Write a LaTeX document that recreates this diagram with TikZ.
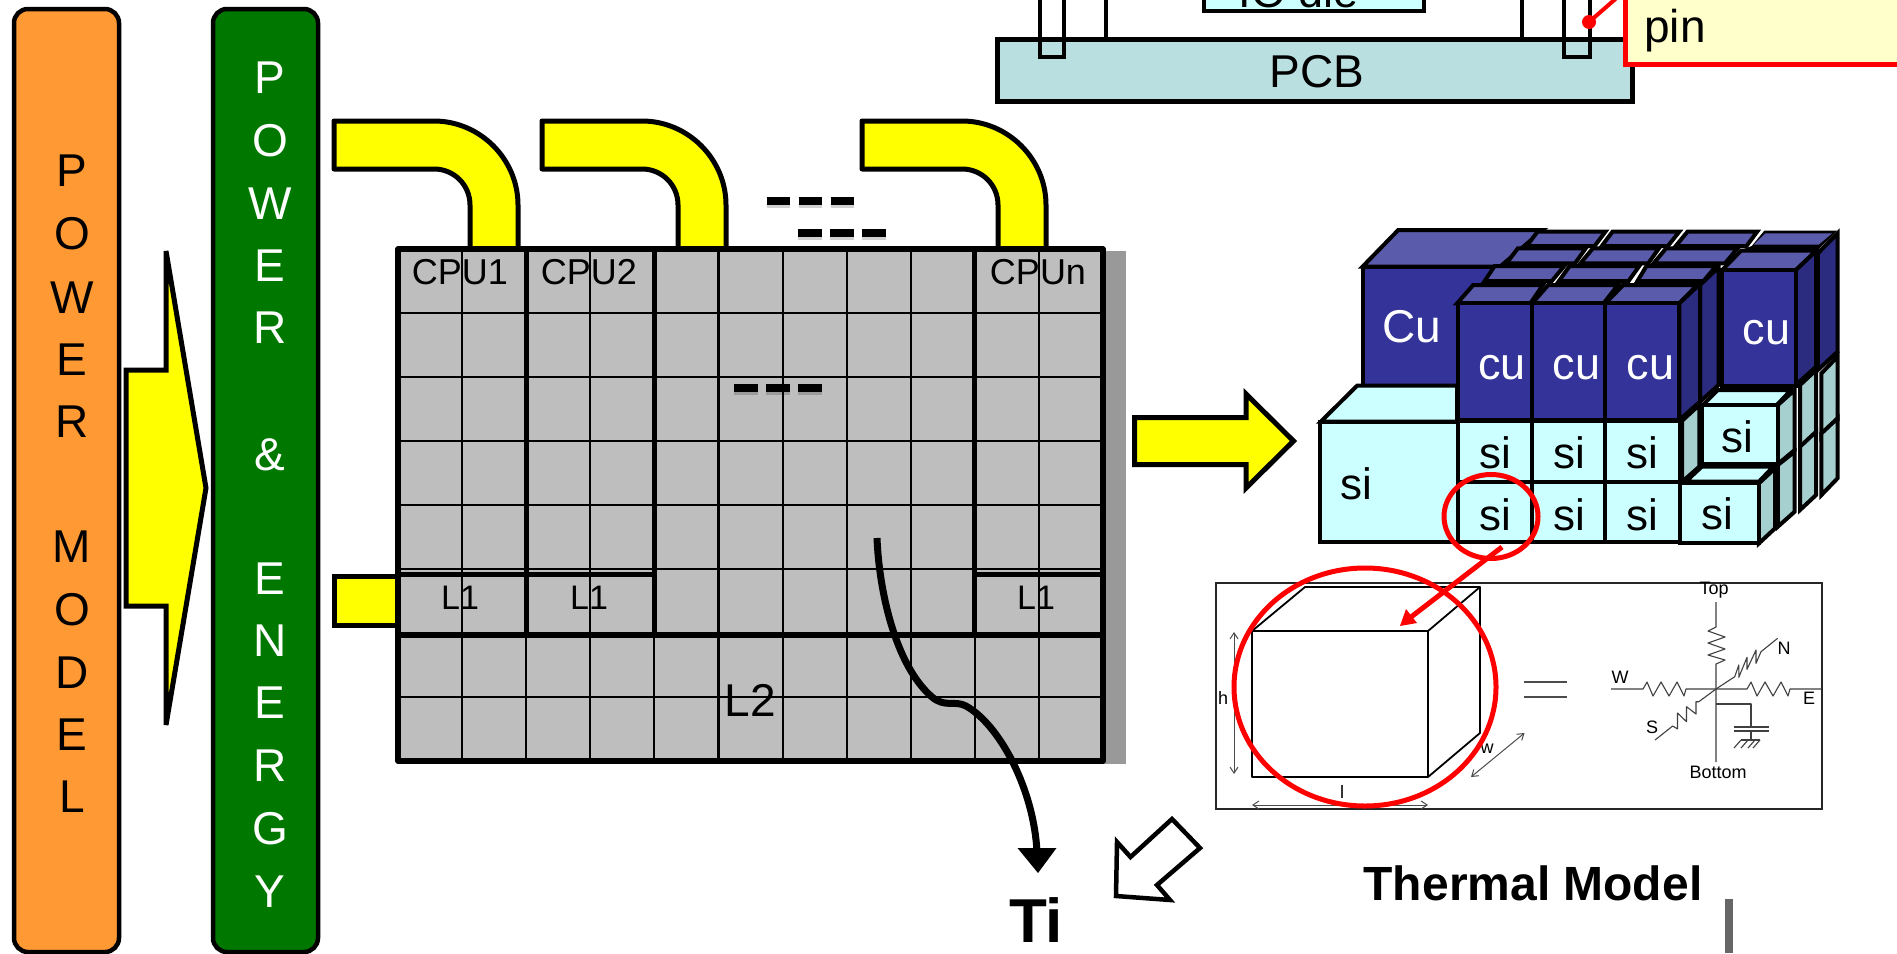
\documentclass[tikz,border=0pt]{standalone}
\usepackage{fontspec}
\setmainfont{Liberation Sans}
\usetikzlibrary{arrows.meta}
\newcommand\fsz[1]{\fontsize{#1}{#1}\selectfont}
\definecolor{orangebar}{HTML}{FF9933}
\definecolor{greenbar}{HTML}{007800}
\definecolor{yel}{HTML}{FFFF00}
\definecolor{chipgrey}{HTML}{BEBEBE}
\definecolor{shadowgrey}{HTML}{999999}
\definecolor{pcbblue}{HTML}{B9DFE1}
\definecolor{lightsi}{HTML}{CCFFFF}
\definecolor{sidesi}{HTML}{A6CFCF}
\definecolor{cufront}{HTML}{333399}
\definecolor{cutop}{HTML}{5B5BAB}
\definecolor{cuside}{HTML}{2B2B80}
\definecolor{callout}{HTML}{FFFFCC}
\tikzset{
  lbl/.style={inner sep=0pt,outer sep=0pt,anchor=center},
  barbox/.style={draw=black,line width=4.5pt,rounded corners=14pt},
  yblock/.style={draw=black,fill=yel,line width=5pt,line join=miter},
  thin grid/.style={draw=black,line width=2.1pt},
  thick grid/.style={draw=black,line width=5pt},
  dashbar/.style={draw=black,line width=8pt},
  dashshade/.style={draw=black,opacity=.18,line width=8pt},
  block/.style={draw=black,line width=4pt,line join=miter},
  sifront/.style={block,fill=lightsi},
  siside/.style={block,fill=sidesi},
  cuf/.style={block,fill=cufront},
  cut/.style={block,fill=cutop},
  cus/.style={block,fill=cuside},
  cutxt/.style={lbl,text=white,font=\fsz{45}},
  sitxt/.style={lbl,text=black,font=\fsz{44}},
  fig/.style={draw=black,line width=1.8pt,line join=round},
  wire/.style={draw=black!75,line width=1.1pt,line join=round},
  dim/.style={draw=black!70,line width=1pt,{Straight Barb[length=6pt,width=8pt]}-{Straight Barb[length=6pt,width=8pt]}},
  smalltxt/.style={lbl,font=\fsz{18}},
  redring/.style={draw=red,line width=5pt},
}
\begin{document}
\begin{tikzpicture}[x=1pt,y=-1pt]
\path[use as bounding box,clip] (0,0) rectangle (1897,953);
\fill[white] (0,0) rectangle (1897,953);

% left bars
\path[barbox,fill=orangebar] (14,9) rectangle (119,952);
\path[barbox,fill=greenbar] (213,9) rectangle (318,952);
\foreach \t/\y [count=\i] in {P/171,O/234,W/298,E/360,R/422,M/547,O/610,D/673,E/735,L/797}
  \node[lbl,font=\fsz{46},text=black] (pm\i) at (72,\y) {\t};
\foreach \t/\y [count=\i] in {P/78,O/141,W/204,E/266,R/328,\&/455,E/579,N/641,E/703,R/766,G/829,Y/892}
  \node[lbl,font=\fsz{46},text=white] (pe\i) at (270,\y) {\t};

% big yellow arrow
\path[yblock] (126,370) -- (166,370) -- (166,251) -- (206,488) -- (166,725) -- (166,606) -- (126,606) -- cycle;

% PCB and package
\path[draw=black,line width=5pt,fill=pcbblue] (997,39) rectangle (1632,101);
\node[lbl,font=\fsz{46}] (pcb) at (1317,72) {PCB};
\path[draw=black,line width=4.5pt,fill=lightsi] (1204,-10) rectangle (1424,11);
\node[inner sep=0pt,anchor=base,font=\fsz{45}] (iodie) at (1299,8) {IO die};
\draw[black,line width=4pt] (1040,-5) -- (1040,57) -- (1064,57) -- (1064,-5);
\draw[black,line width=4pt] (1564,-5) -- (1564,57) -- (1590,57) -- (1590,-5);
\draw[black,line width=3.5pt] (1106,-5) -- (1106,37);
\draw[black,line width=3.5pt] (1522,-5) -- (1522,37);

% callout
\coordinate (pintip) at (1589,22);
\coordinate (pinbase) at (1628,-12);
\draw[red,line width=4pt] (pintip) -- (pinbase);
\fill[red] (pintip) circle (7);
\path[draw=red,line width=5pt,fill=callout] (1625,-10) rectangle (1910,64.5);
\node[inner sep=0pt,anchor=base west,font=\fsz{46}] (pin) at (1644,42) {pin};

% bent power pipes
\foreach \d in {0,208,528}
  \path[yblock,line join=round] (334+\d,121) -- (434+\d,121) .. controls (480+\d,121) and (518+\d,159) .. (518+\d,205)
    -- (518+\d,252) -- (470+\d,252) -- (470+\d,205) .. controls (470+\d,185) and (454+\d,169) .. (434+\d,169) -- (334+\d,169) -- cycle;
\path[yblock] (334,576) rectangle (400,625);

% chip
\fill[shadowgrey] (416,251) rectangle (1126,764);
\fill[chipgrey] (398,249) rectangle (1103,761);
\foreach \n in {1,...,10} \draw[thin grid] (398+64.1*\n,249) -- (398+64.1*\n,761);
\foreach \y in {313,377,441,505,569,697} \draw[thin grid] (398,\y) -- (1103,\y);
\draw[thick grid] (526,249) -- (526,635);
\draw[thick grid] (654,249) -- (654,635);
\draw[thick grid] (974,249) -- (974,635);
\draw[thick grid] (398,574.5) -- (654,574.5);
\draw[thick grid] (974,574.5) -- (1103,574.5);
\draw[thick grid,line width=6.5pt] (398,635) -- (1103,635);
\draw[draw=black,line width=5.5pt,line join=round] (398,249) rectangle (1103,761);

\foreach \t/\x [count=\i] in {CPU1/460,CPU2/589,CPUn/1038}
  \node[lbl,font=\fsz{36}] (cpu\i) at (\x,272) {\t};
\foreach \x [count=\i] in {460,589,1036}
  \node[lbl,font=\fsz{34}] (lone\i) at (\x,598) {L1};
\node[lbl,font=\fsz{46}] (ltwo) at (750,700) {L2};

% dashes
\foreach \a/\y in {766.5/201,798/233,734/388}{
  \foreach \k in {0,1,2}{
    \draw[dashshade] (\a+32*\k,\y+3) -- (\a+23.5+32*\k,\y+3);
    \draw[dashbar] (\a+32*\k,\y) -- (\a+23.5+32*\k,\y);
  }
}

% Ti and curve
\node[lbl,font=\bfseries\fsz{62}] (ti) at (1036,920) {Ti};
\coordinate (curvestart) at (877,538);
\draw[black,line width=7pt] (curvestart) .. controls (879,590) and (895,665) .. (932,697)
   .. controls (945,708) and (955,700) .. (966,706)
   .. controls (1000,725) and (1034,790) .. (1037,852);
\fill[black] (1017.5,848) -- (1056.5,848) -- (1038,873) -- cycle;

% hollow arrow
\path[draw=black,fill=white,line width=4.5pt,line join=miter] (1116,896) -- (1117,842) -- (1130.5,857) -- (1172,819) -- (1200,848) -- (1157,885) -- (1170,900) -- cycle;

% right yellow arrow
\path[yblock] (1134.5,417.5) -- (1246,417.5) -- (1246,394) -- (1293.5,441) -- (1246,488) -- (1246,464.5) -- (1134.5,464.5) -- cycle;

% cube stack, coordinates of the 2.8 x 3 magnified view
\begin{scope}[shift={(1300,210)},x=0.35714pt,y=-0.33333pt]
  % far right column
  \path[cus] (1450,130) -- (1505,70) -- (1505,425) -- (1450,480) -- cycle;
  \path[fill=black] (1230,122) -- (1265,108) -- (1300,62) -- (1505,62) -- (1445,125) -- cycle;
  \path[fill=cutop] (1303,70) -- (1490,70) -- (1452,104) -- (1270,104) -- cycle;
  \path[siside] (1460,490) -- (1505,440) -- (1505,630) -- (1460,680) -- cycle;
  \path[siside] (1460,670) -- (1505,625) -- (1505,805) -- (1460,855) -- cycle;
  % big Cu
  \path[cuf] (175,172) rectangle (560,528);
  \path[cut] (175,170) -- (275,60) -- (680,60) -- (560,170) -- cycle;
  \node[cutxt,font=\fsz{46}] (bigcu) at (312,350) {Cu};
  % rows of tops
  \foreach \a/\b/\c/\d in {665/855/825/635,875/1062/1030/845,1085/1280/1250/1052}
    \path[cut] (\a,65) -- (\b,65) -- (\c,108) -- (\d,108) -- cycle;
  \foreach \a/\b/\c/\d in {610/800/770/578,820/1005/975/785,1025/1225/1190/990}
    \path[cut] (\a,115) -- (\b,115) -- (\c,160) -- (\d,160) -- cycle;
  \foreach \a/\b/\c/\d in {545/740/705/517,755/950/920/725,970/1165/1130/945}
    \path[cut] (\a,168) -- (\b,168) -- (\c,213) -- (\d,213) -- cycle;
  % second column on the right
  \path[cus] (1388,180) -- (1445,122) -- (1445,470) -- (1388,525) -- cycle;
  \path[cut] (1182,180) -- (1235,122) -- (1445,122) -- (1388,180) -- cycle;
  \path[cuf] (1182,180) rectangle (1388,528);
  \node[cutxt] (cu4) at (1306,368) {cu};
  \path[siside] (1400,525) -- (1445,480) -- (1445,670) -- (1400,715) -- cycle;
  \path[siside] (1400,710) -- (1445,665) -- (1445,855) -- (1400,900) -- cycle;
  % side of the middle rows
  \path[cus] (1120,225) -- (1172,172) -- (1172,525) -- (1120,575) -- cycle;
  % right si blocks
  \path[siside] (1338,765) -- (1385,725) -- (1385,905) -- (1338,950) -- cycle;
  \path[sifront] (1128,585) -- (1170,540) -- (1375,540) -- (1335,585) -- cycle;
  \path[siside] (1338,585) -- (1385,540) -- (1385,720) -- (1338,762) -- cycle;
  \path[sifront] (1125,585) rectangle (1338,762);
  \node[sitxt] (si5) at (1225,680) {si};
  \path[sifront] (1080,815) -- (1125,770) -- (1325,770) -- (1285,815) -- cycle;
  \path[siside] (1285,820) -- (1330,775) -- (1330,955) -- (1285,1000) -- cycle;
  \path[sifront] (1065,820) rectangle (1285,1000);
  \node[sitxt] (si6) at (1170,912) {si};
  % big si
  \path[sifront] (58,635) -- (160,527) -- (440,527) -- (440,635) -- cycle;
  \path[sifront] (55,635) rectangle (442,997);
  \node[sitxt] (si0) at (158,820) {si};
  % front cu cubes
  \foreach \a/\b/\c/\d in {485/680/645/440,695/890/850/650,905/1112/1062/855}
    \path[cut] (\a,225) -- (\b,225) -- (\c,280) -- (\d,280) -- cycle;
  \path[cus] (1062,280) -- (1120,222) -- (1120,575) -- (1062,630) -- cycle;
  \path[cuf] (442,280) rectangle (650,630);
  \path[cuf] (650,280) rectangle (855,630);
  \path[cuf] (855,280) rectangle (1062,630);
  \foreach \x [count=\i] in {566,774,981} \node[cutxt] (cu\i) at (\x,473) {cu};
  % front si cubes
  \path[siside] (1070,632) -- (1118,585) -- (1118,770) -- (1070,815) -- cycle;
  \foreach \a/\b [count=\i] in {442/650,650/855,855/1065}{
    \path[sifront] (\a,632) rectangle (\b,815);
    \path[sifront] (\a,815) rectangle (\b,997);
  }
  \foreach \x [count=\i] in {546,753,960}{
    \node[sitxt] (sia\i) at (\x,728) {si};
    \node[sitxt] (sib\i) at (\x,913) {si};
  }
\end{scope}

% thermal figure
\draw[black!85,line width=1.3pt,fill=white] (1216,583) rectangle (1822,809);
\draw[fig] (1252,631) rectangle (1428,777);
\draw[fig] (1252,631) -- (1305,587) -- (1480,587) -- (1428,631);
\draw[fig] (1480,587) -- (1480,733) -- (1428,777);
\draw[dim] (1234,632) -- (1234,774);
\draw[dim] (1252,805) -- (1428,805);
\draw[dim] (1471,777) -- (1524.5,733);
\node[smalltxt] (hh) at (1223,698) {h};
\node[smalltxt] (ll) at (1342,792) {l};
\node[smalltxt] (ww) at (1487,749) {w};
\draw[black!70,line width=1.5pt] (1524,682) -- (1567,682);
\draw[black!70,line width=1.5pt] (1524,697) -- (1567,697);
% circuit
\draw[wire] (1716,602) -- (1716,627) -- (1708,631) -- (1725,637) -- (1708,643) -- (1725,649) -- (1708,655) -- (1725,660) -- (1716,664) -- (1716,762);
\draw[wire] (1611,689) -- (1643,689) -- (1647,682) -- (1653,696) -- (1661,682) -- (1669,696) -- (1677,682) -- (1684,696) -- (1686,689) -- (1747,689) -- (1751,682) -- (1757,696) -- (1765,682) -- (1773,696) -- (1781,682) -- (1788,696) -- (1790,689) -- (1821,689);
\draw[wire] (1716,689) -- (1734.7,676.7) -- (1738.8,665) -- (1738.8,677.3) -- (1747,657.3) -- (1747,669.3) -- (1756,650) -- (1756,663.3) -- (1761,651.7) -- (1777.6,638.3);
\draw[wire] (1716,689) -- (1698.8,701.7) -- (1696,701.7) -- (1696,714) -- (1686.5,706.7) -- (1686.5,721.7) -- (1677.5,713) -- (1677.5,729) -- (1672.7,726) -- (1655,740);
\draw[wire] (1716,704) -- (1751,704) -- (1751,727);
\draw[wire] (1734,727) -- (1769,727);
\draw[wire] (1734,731) -- (1769,731);
\draw[wire] (1751,731) -- (1751,740);
\draw[wire] (1741,740) -- (1760,740);
\foreach \x in {1741,1748,1755,1760} \draw[wire] (\x,740) -- (\x-7,748);
\node[smalltxt] (top) at (1714,590) {Top};
\node[smalltxt] (nn) at (1784,648) {N};
\node[smalltxt] (wt) at (1620,677) {W};
\node[smalltxt] (ee) at (1809,698) {E};
\node[smalltxt] (ss) at (1652,727) {S};
\node[smalltxt] (bot) at (1718,772) {Bottom};

% red overlays
\coordinate (smallc) at (1491,516.5);
\coordinate (bigc) at (1365,687);
\path[redring] (smallc) ellipse [x radius=47,y radius=42];
\path[redring] (bigc) ellipse [x radius=131,y radius=119];
\coordinate (redstart) at (1502,547);
\coordinate (redend) at (1411,617);
\draw[red,line width=5pt] (redstart) -- (redend);
\fill[red] (1400,626) -- (1406,609) -- (1417,623) -- cycle;

% caption and bar
\node[lbl,font=\bfseries\fsz{48}] (thermal) at (1533,883) {Thermal Model};
\fill[black!60] (1724.5,899) rectangle (1733,953);
\end{tikzpicture}
\end{document}
